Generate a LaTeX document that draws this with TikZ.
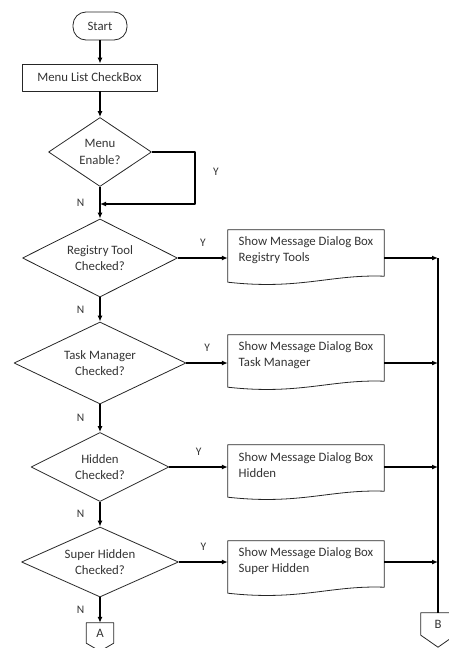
\documentclass[tikz,border=0pt]{standalone}
\usepackage{fontspec}
\setmainfont{Carlito}
\usetikzlibrary{shapes.geometric,arrows.meta}
\begin{document}
\begin{tikzpicture}[x=1pt,y=-1pt,font=\fontsize{12.8}{16.5}\selectfont, line join=round, >={Latex[length=6pt,width=5pt]},
	flow/.style={draw=black!85, line width=0.8pt, text=black!80},
	decision/.style={flow, diamond, aspect=2, inner sep=0pt, align=center},
	msgbox/.style={text=black!80, minimum width=156pt, minimum height=40pt, align=left, inner sep=0pt},
	pageref/.style={text=black!80, minimum width=27pt, minimum height=20pt, inner sep=0pt},
	line/.style={line width=1.4pt},
	yn/.style={text=black!80, font=\fontsize{11.5}{12}\selectfont, inner sep=1pt}]
	\useasboundingbox (0,0) rectangle (449,648);
	% main column
	\node[flow, rounded corners=13pt, minimum width=54pt, minimum height=28pt] (start) at (100,26) {Start};
	\node[flow, minimum width=135pt, minimum height=27pt] (list) at (89.5,77.5) {Menu List CheckBox};
	\node[decision, aspect=1.5, minimum width=103pt, minimum height=69pt] (d1) at (100,152) {Menu\\Enable?};
	\node[decision, minimum width=155pt, minimum height=78pt] (d2) at (100,258) {Registry Tool\\Checked?};
	\node[decision, minimum width=172pt, minimum height=82pt] (d3) at (100,363) {Task Manager\\Checked?};
	\node[decision, minimum width=138pt, minimum height=69pt] (d4) at (100,467) {Hidden\\Checked?};
	\node[decision, minimum width=157pt, minimum height=70pt] (d5) at (100,562) {Super Hidden\\Checked?};
	\node[pageref] (A) at (100,633) {A};
	% message boxes
	\node[msgbox] (m1) at (306,250) {Show Message Dialog Box\\Registry Tools};
	\node[msgbox] (m2) at (306,355) {Show Message Dialog Box\\Task Manager};
	\node[msgbox] (m3) at (306,465) {Show Message Dialog Box\\Hidden};
	\node[msgbox] (m4) at (306,561) {Show Message Dialog Box\\Super Hidden};
	\node[pageref, minimum width=34pt, minimum height=22pt] (B) at (438,624) {B};
	\foreach \n in {m1,m2,m3,m4}
		\draw[flow] ([yshift=-12pt]\n.south west) -- (\n.north west) -- (\n.north east) -- ([yshift=-6pt]\n.south east)
			.. controls +(-54,-2) and +(72,8) .. ([yshift=-12pt]\n.south west) -- cycle;
	\foreach \n/\p in {A/8,B/12}
		\draw[flow] (\n.north west) -- (\n.north east) -- (\n.south east) -- ([yshift=-\p pt]\n.south) -- (\n.south west) -- cycle;
	% connectors
	\draw[line,->] (start) -- (start |- list.north);
	\draw[line,->] (d1 |- list.south) -- (d1);
	\coordinate (merge) at (100,204);
	\draw[line,->] (d1.east) -- ++(43,0) |- (merge);
	\node[yn] (y-d1) at (216,172) {Y};
	\foreach \a/\b in {d1/d2,d2/d3,d3/d4,d4/d5,d5/A}
		\draw[line,->] (\a) -- node[yn, left=14pt] (n-\a) {N} (\b);
	\foreach \d/\m in {d2/m1,d3/m2,d4/m3,d5/m4}{
		\draw[line,->] (\d.east) -- node[yn, above=10pt] (y-\d) {Y} (\d.east -| \m.west);
		\draw[line,->] (\d -| \m.east) -- (\d -| B);
	}
	\draw[line] (d2 -| B) -- (B);
\end{tikzpicture}
\end{document}
